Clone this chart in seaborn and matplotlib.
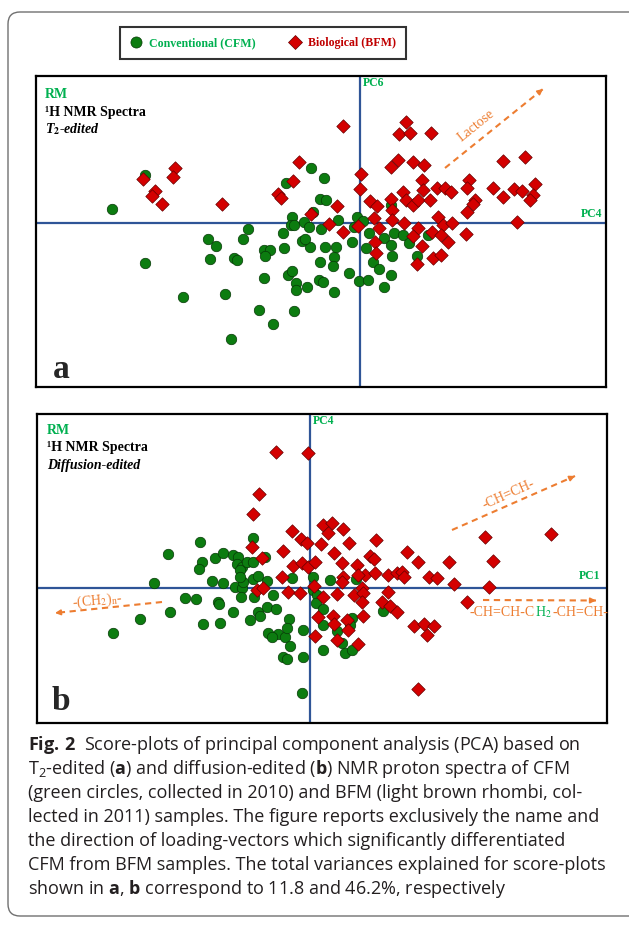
import numpy as np
import pandas as pd
import matplotlib
matplotlib.use("Agg")
import matplotlib.pyplot as plt
import seaborn as sns
from matplotlib.lines import Line2D
from matplotlib.patches import FancyBboxPatch

sns.set_theme(style="white")
SERIF = ["Liberation Serif", "DejaVu Serif"]
SANS = ["Open Sans", "DejaVu Sans"]
plt.rcParams["font.family"] = SERIF
plt.rcParams["mathtext.fontset"] = "custom"
plt.rcParams["mathtext.rm"] = "Open Sans"
plt.rcParams["mathtext.bf"] = "Open Sans:bold"
plt.rcParams["mathtext.it"] = "Open Sans:italic"

# ---------------- data (scores) ----------------
groups = ["Conventional (CFM)", "Biological (BFM)"]

# panel a : PC4 (x) vs PC6 (y), T2-edited spectra
a_cfm_pc4 = [-24.8, -21.5, -21.5, -17.7, -13.5, -12.9, -15.2, -14.4, -15.0, -12.6,
             -12.3, -11.7, -11.2, -9.6, -10.1, -8.7, -6.6, -9.6, -9.0, -9.5,
             -7.7, -7.6, -7.2, -6.8, -6.4, -6.4, -5.3, -4.1, -3.7, -4.0,
             -2.6, -2.7, -2.6, -1.1, -0.1, 0.8, 2.4, 3.1, -2.4, -3.5,
             -5.0, -5.8, -5.5, -6.8, -6.9, -6.6, -5.6, -5.1, -4.7, -3.9,
             -2.2, -0.3, -0.6, 0.3, -0.8, 0.9, 0.6, 1.3, 1.9, 2.4,
             3.1, 3.2, 3.4, 4.3, 4.9, 5.7, 6.8, 3.1, -4.9, -3.6,
             -7.4, -4.0, -3.4]
a_cfm_pc6 = [1.4, 4.8, -4.0, -7.4, -7.1, -11.6, -1.6, -2.3, -3.6, -3.5,
             -3.7, -1.6, -0.6, -5.5, -8.7, -10.1, -8.8, -2.7, -2.7, -3.3,
             -1.0, -2.5, -5.2, -4.8, -6.0, -6.7, -6.4, -5.7, -5.9, -3.9,
             -3.4, -4.3, -6.9, -5.0, -5.8, -5.7, -6.4, -5.2, -2.4, -2.4,
             -2.4, -1.8, -1.6, 0.6, -0.2, -0.2, 0.1, -0.4, 1.1, -0.6,
             0.3, 0.6, -0.4, 0.2, -1.9, -1.0, -2.5, -3.9, -4.6, -1.5,
             -2.2, -3.3, -1.0, -1.2, -2.0, -3.3, -1.2, 1.8, 5.5, 4.5,
             4.0, 2.4, 2.3]
a_bfm_pc4 = [-21.7, -18.5, -18.7, -20.5, -20.8, -19.8, -13.8, -6.1, -6.7, -8.2,
             -7.9, -4.9, -1.7, 4.6, 3.9, 5.0, 7.1, 3.8, 3.1, 5.3,
             6.4, 14.3, 16.5, 0.1, 0.0, 6.2, 10.9, 4.3, 6.3, 7.7,
             8.5, 9.1, 10.7, 13.3, 15.4, 16.2, 17.5, 17.3, 17.0, 14.3,
             1.0, 1.7, 3.1, 4.6, 5.3, 5.8, 7.0, 11.5, 11.3, -2.3,
             10.7, 3.2, 15.7, -3.1, -1.7, -0.2, 1.4, 1.9, 3.2, 4.4,
             5.8, 7.8, 8.3, 9.2, 7.2, 8.1, 10.6, 5.3, 8.8, 1.5,
             6.2, 1.6, 7.3, 8.1, 5.7]
a_bfm_pc6 = [4.4, 5.5, 4.6, 3.2, 2.7, 1.9, 1.9, 6.1, 4.2, 2.9,
             2.5, 0.9, 9.7, 10.1, 8.9, 9.0, 9.0, 6.3, 5.6, 6.1,
             5.8, 6.2, 6.6, 4.9, 3.4, 4.3, 4.3, 3.1, 3.3, 3.5,
             3.5, 3.1, 3.5, 3.5, 3.4, 3.2, 3.9, 2.8, 2.3, 2.6,
             2.2, 1.7, 2.4, 2.3, 1.8, 2.3, 2.3, 2.3, 1.9, 1.7,
             1.1, 1.3, 0.1, -0.1, -0.9, -0.3, 0.5, -0.5, 0.3, 0.0,
             -0.5, 0.6, -0.2, 0.0, -0.9, -1.2, -1.1, -1.3, -1.9, -1.9,
             -2.3, -3.0, -3.5, -3.2, -4.1]

# panel b : PC1 (x) vs PC4 (y), diffusion-edited spectra
b_cfm_pc1 = [-19.7, -17.0, -15.6, -14.2, -14.0, -12.5, -11.4, -11.0, -10.8, -11.1,
             -10.7, -9.0, -9.8, -8.7, -9.2, -9.1, -9.5, -8.7, -7.7, -7.2,
             -7.3, -6.8, -7.0, -6.3, -5.7, -5.7, -4.5, -7.7, -7.5, -6.8,
             -6.7, -7.0, -6.9, -6.0, -5.6, -5.7, -5.2, -4.3, -5.2, -5.0,
             -4.3, -3.4, -3.7, -4.2, -3.2, -3.8, -2.5, -2.1, -2.3, -2.0,
             -2.7, -2.3, -0.7, -0.7, -0.8, -1.8, 0.3, 2.0, 4.6, 0.3,
             0.7, 0.6, 1.3, 1.3, 2.7, 1.3, 3.2, 3.5, 4.2, 4.2,
             4.0, 7.3]
b_cfm_pc4 = [-4.5, -3.1, 0.5, 3.4, -2.4, -1.0, -1.1, 4.6, 2.6, 1.9,
             -3.6, -3.5, 0.7, 0.5, -1.4, -1.6, 3.0, 3.5, 3.3, 3.1,
             2.4, 2.1, 1.8, 2.6, 5.0, 2.6, 3.1, -2.4, 0.1, 0.0,
             0.6, 1.1, -0.9, -3.2, -0.9, 0.9, 1.2, 0.7, -2.4, -2.8,
             -1.9, -2.1, -0.7, -4.5, -4.6, -4.9, -4.9, -3.1, -4.0, -5.8,
             -6.9, -7.1, -4.2, -6.9, -10.5, 1.0, 1.1, 0.8, 0.9, -0.2,
             -0.7, -1.5, -2.1, -3.7, -4.3, -6.2, -5.5, -6.5, -6.2, -3.0,
             -3.7, -2.3]
b_bfm_pc1 = [-3.4, -0.2, -5.1, -5.7, -1.8, -0.9, -0.3, 1.3, 2.2, 1.8,
             3.3, 1.1, 3.9, 6.6, -5.8, -2.7, 2.4, -4.8, -1.7, -0.8,
             -0.2, 0.5, 3.2, 6.0, 6.4, 9.7, 10.8, 13.9, 18.3, 17.5,
             24.1, 4.7, 5.5, 6.5, 7.8, 8.7, 9.2, 9.4, 3.3, 3.2,
             -2.8, 11.9, 12.7, 14.4, 17.9, 15.7, -5.3, -4.7, -2.2, -1.0,
             0.4, 1.3, 2.7, 4.4, 5.2, 5.3, 7.8, 7.2, 8.0, 8.7,
             5.2, 5.3, 0.8, 2.3, 2.4, 3.7, 3.8, 0.5, 2.7, 4.8,
             10.4, 11.4, 12.4, 11.7, 10.8, 4.8]
b_bfm_pc4 = [13.6, 13.5, 9.4, 7.4, 5.7, 4.9, 4.5, 6.3, 6.5, 5.5,
             5.9, 4.4, 4.5, 4.8, 4.1, 3.7, 3.5, 3.0, 2.2, 2.5,
             2.1, 2.6, 2.5, 3.2, 2.9, 3.6, 2.6, 2.6, 2.7, 5.1,
             5.4, 2.3, 1.3, 1.5, 1.3, 1.5, 1.6, 1.1, 1.1, 0.6,
             1.1, 1.1, 1.0, 0.4, 0.1, -1.4, -0.2, 0.0, -0.4, -0.5,
             0.2, -0.9, -0.6, -0.7, 0.0, -0.5, -0.4, -1.4, -1.8, -2.4,
             -1.4, -2.8, -2.9, -2.8, -3.6, -3.2, -4.2, -4.8, -5.2, -5.6,
             -3.8, -3.6, -3.8, -4.7, -10.1, 1.3]

caption_lines = [
    r"$\mathbf{Fig.\,2}$  Score-plots of principal component analysis (PCA) based on",
    r"T$_2$-edited ($\mathbf{a}$) and diffusion-edited ($\mathbf{b}$) NMR proton spectra of CFM",
    "(green circles, collected in 2010) and BFM (light brown rhombi, col-",
    "lected in 2011) samples. The figure reports exclusively the name and",
    "the direction of loading-vectors which significantly differentiated",
    "CFM from BFM samples. The total variances explained for score-plots",
    r"shown in $\mathbf{a}$, $\mathbf{b}$ correspond to 11.8 and 46.2%, respectively",
]

# ---------------- style ----------------
W, H = 629, 925
GREEN_FILL, GREEN_EDGE = "#0c7c10", "#063806"
RED_FILL, RED_EDGE = "#d40000", "#650000"
TXT_GREEN, TXT_RED = "#00b050", "#c00000"
ORANGE = "#ed7d31"
BLUE = "#2f5597"

fig = plt.figure(figsize=(W / 100, H / 100), dpi=100)
fig.patch.set_facecolor("white")

# background / caption layer in pixel coordinates
bg = fig.add_axes([0, 0, 1, 1], zorder=-5)
bg.set_xlim(0, W)
bg.set_ylim(H, 0)
bg.axis("off")
frame = FancyBboxPatch((8, 12), 650, 904, boxstyle="round,pad=0,rounding_size=12",
                       fc="white", ec="#707070", lw=1.0)
bg.add_patch(frame)

cap = fig.add_axes([0, 0, 1, 1], zorder=5)
cap.set_xlim(0, W)
cap.set_ylim(H, 0)
cap.axis("off")
cap.patch.set_alpha(0)
for i, line in enumerate(caption_lines):
    cap.text(28, 745 + 24 * i, line, fontsize=13.0, family=SANS, color="#231f20",
             va="center", ha="left")


def panel(rect, xlim, ylim, cx, cy, yname):
    ax = fig.add_axes(rect)
    df = pd.DataFrame({
        "x": list(cx[0]) + list(cy[0]),
        "y": list(cx[1]) + list(cy[1]),
        "group": [groups[0]] * len(cx[0]) + [groups[1]] * len(cy[0]),
    })
    ax.axhline(0, color=BLUE, lw=1.6, zorder=1)
    ax.axvline(0, color=BLUE, lw=1.6, zorder=1)
    sns.scatterplot(data=df[df.group == groups[0]], x="x", y="y", marker="o", s=57,
                    color=GREEN_FILL, edgecolor=GREEN_EDGE, linewidth=0.5, ax=ax,
                    legend=False, zorder=3)
    sns.scatterplot(data=df[df.group == groups[1]], x="x", y="y", marker="D", s=47,
                    color=RED_FILL, edgecolor=RED_EDGE, linewidth=0.5, ax=ax,
                    legend=False, zorder=4)
    ax.set_xlim(*xlim)
    ax.set_ylim(*ylim)
    ax.set_xticks([])
    ax.set_yticks([])
    ax.set_xlabel("")
    ax.set_ylabel("")
    for sp in ax.spines.values():
        sp.set_visible(True)
        sp.set_color("black")
        sp.set_linewidth(1.6)
    ax.text(0.3, ylim[1] - 0.7, yname, color=TXT_GREEN, fontsize=8.5, fontweight="bold",
            family=SERIF, ha="left", va="center", zorder=6)
    return ax


# ---------------- panel a ----------------
axa = panel([36 / W, 1 - 387 / H, 570 / W, 311 / H], (-32.4, 24.6), (-16.4, 14.7),
            (a_cfm_pc4, a_cfm_pc6), (a_bfm_pc4, a_bfm_pc6), "PC6")
axa.text(24.2, 0.85, "PC4", color=TXT_GREEN, fontsize=8.5, fontweight="bold",
         family=SERIF, ha="right", va="center")
axa.text(0.016, 0.942, "RM", transform=axa.transAxes, color=TXT_GREEN, fontsize=10,
         fontweight="bold", family=SERIF, va="center")
axa.text(0.016, 0.884, "\u00b9H NMR Spectra", transform=axa.transAxes, color="black",
         fontsize=10, fontweight="bold", family=SERIF, va="center")
axa.text(0.016, 0.828, r"T$_\mathbf{2}$-edited", transform=axa.transAxes, color="black",
         fontsize=10, fontweight="bold", style="italic", family=SERIF, va="center",
         math_fontfamily="stix")
axa.text(0.029, 0.029, "a", transform=axa.transAxes, fontsize=24, fontweight="bold",
         family=SERIF, va="baseline")

# ---------------- panel b ----------------
axb = panel([37 / W, 1 - 723 / H, 570 / W, 309 / H], (-27.3, 29.7), (-13.5, 17.4),
            (b_cfm_pc1, b_cfm_pc4), (b_bfm_pc1, b_bfm_pc4), "PC4")
axb.text(29.0, 1.2, "PC1", color=TXT_GREEN, fontsize=8.5, fontweight="bold",
         family=SERIF, ha="right", va="center")
axb.text(0.0175, 0.945, "RM", transform=axb.transAxes, color=TXT_GREEN, fontsize=10,
         fontweight="bold", family=SERIF, va="center")
axb.text(0.0175, 0.890, "\u00b9H NMR Spectra", transform=axb.transAxes, color="black",
         fontsize=10, fontweight="bold", family=SERIF, va="center")
axb.text(0.0175, 0.832, "Diffusion-edited", transform=axb.transAxes, color="black",
         fontsize=10, fontweight="bold", style="italic", family=SERIF, va="center")
axb.text(0.026, 0.042, "b", transform=axb.transAxes, fontsize=24, fontweight="bold",
         family=SERIF, va="baseline")


def dashed_arrow(ax, p0, p1):
    ax.plot([p0[0], p1[0]], [p0[1], p1[1]], color=ORANGE, lw=1.5,
            ls=(0, (3, 2.2)), zorder=2, solid_capstyle="butt")
    d = np.array(p1) - np.array(p0)
    back = np.array(p1) - d / np.hypot(*d) * 0.6
    ax.annotate("", xy=p1, xytext=tuple(back),
                arrowprops=dict(arrowstyle="-|>", color=ORANGE, lw=1.2,
                                mutation_scale=8, shrinkA=0, shrinkB=0), zorder=2)


LOAD_FS = 10
# loading vectors
dashed_arrow(axa, (8.5, 5.5), (18.3, 13.4))
axa.text(11.6, 9.7, "Lactose", rotation=39, color=ORANGE, fontsize=LOAD_FS, family=SERIF,
         ha="center", va="center", rotation_mode="anchor")

dashed_arrow(axb, (14.2, 5.8), (26.5, 11.2))
axb.text(19.9, 9.4, "-CH=CH-", rotation=24, color=ORANGE, fontsize=LOAD_FS, family=SERIF,
         ha="center", va="center", rotation_mode="anchor")

dashed_arrow(axb, (17.3, -1.2), (28.6, -1.25))
t1 = axb.text(16.0, -2.5, "-CH=CH-C", color=ORANGE, fontsize=LOAD_FS, family=SERIF,
              ha="left", va="center")
t2 = axb.annotate(r"H$_2$", xy=(1, 0), xycoords=t1, xytext=(0.2, 0),
                  textcoords="offset points", color=TXT_GREEN, fontsize=LOAD_FS,
                  family=SERIF, ha="left", va="bottom", math_fontfamily="stix")
t3 = axb.annotate("-CH=CH-", xy=(1, 0), xycoords=t2, xytext=(0.2, 0),
                  textcoords="offset points", color=ORANGE, fontsize=LOAD_FS,
                  family=SERIF, ha="left", va="bottom")

dashed_arrow(axb, (-14.8, -1.4), (-25.5, -2.5))
axb.text(-21.3, -1.25, r"-(CH$_2$)$_\mathrm{n}$-", rotation=5.5, color=ORANGE,
         fontsize=LOAD_FS, family=SERIF, ha="center", va="center",
         rotation_mode="anchor", math_fontfamily="stix")

# ---------------- legend ----------------
handles = [
    Line2D([], [], ls="", marker="o", markersize=8, markerfacecolor=GREEN_FILL,
           markeredgecolor=GREEN_EDGE, markeredgewidth=0.5),
    Line2D([], [], ls="", marker="D", markersize=7.5, markerfacecolor=RED_FILL,
           markeredgecolor=RED_EDGE, markeredgewidth=0.5),
]
leg = fig.legend(handles, groups, loc="center", bbox_to_anchor=(263 / W, 1 - 43 / H),
                 ncol=2, frameon=True, fancybox=False, edgecolor="black",
                 prop={"family": SERIF, "weight": "bold", "size": 8.6},
                 handlelength=1.0, handletextpad=0.55, columnspacing=2.8,
                 borderpad=0.85, borderaxespad=0)
leg.get_frame().set_linewidth(1.5)
for txt, c in zip(leg.get_texts(), [TXT_GREEN, TXT_RED]):
    txt.set_color(c)

fig.savefig("out.png", dpi=100, facecolor="white")
